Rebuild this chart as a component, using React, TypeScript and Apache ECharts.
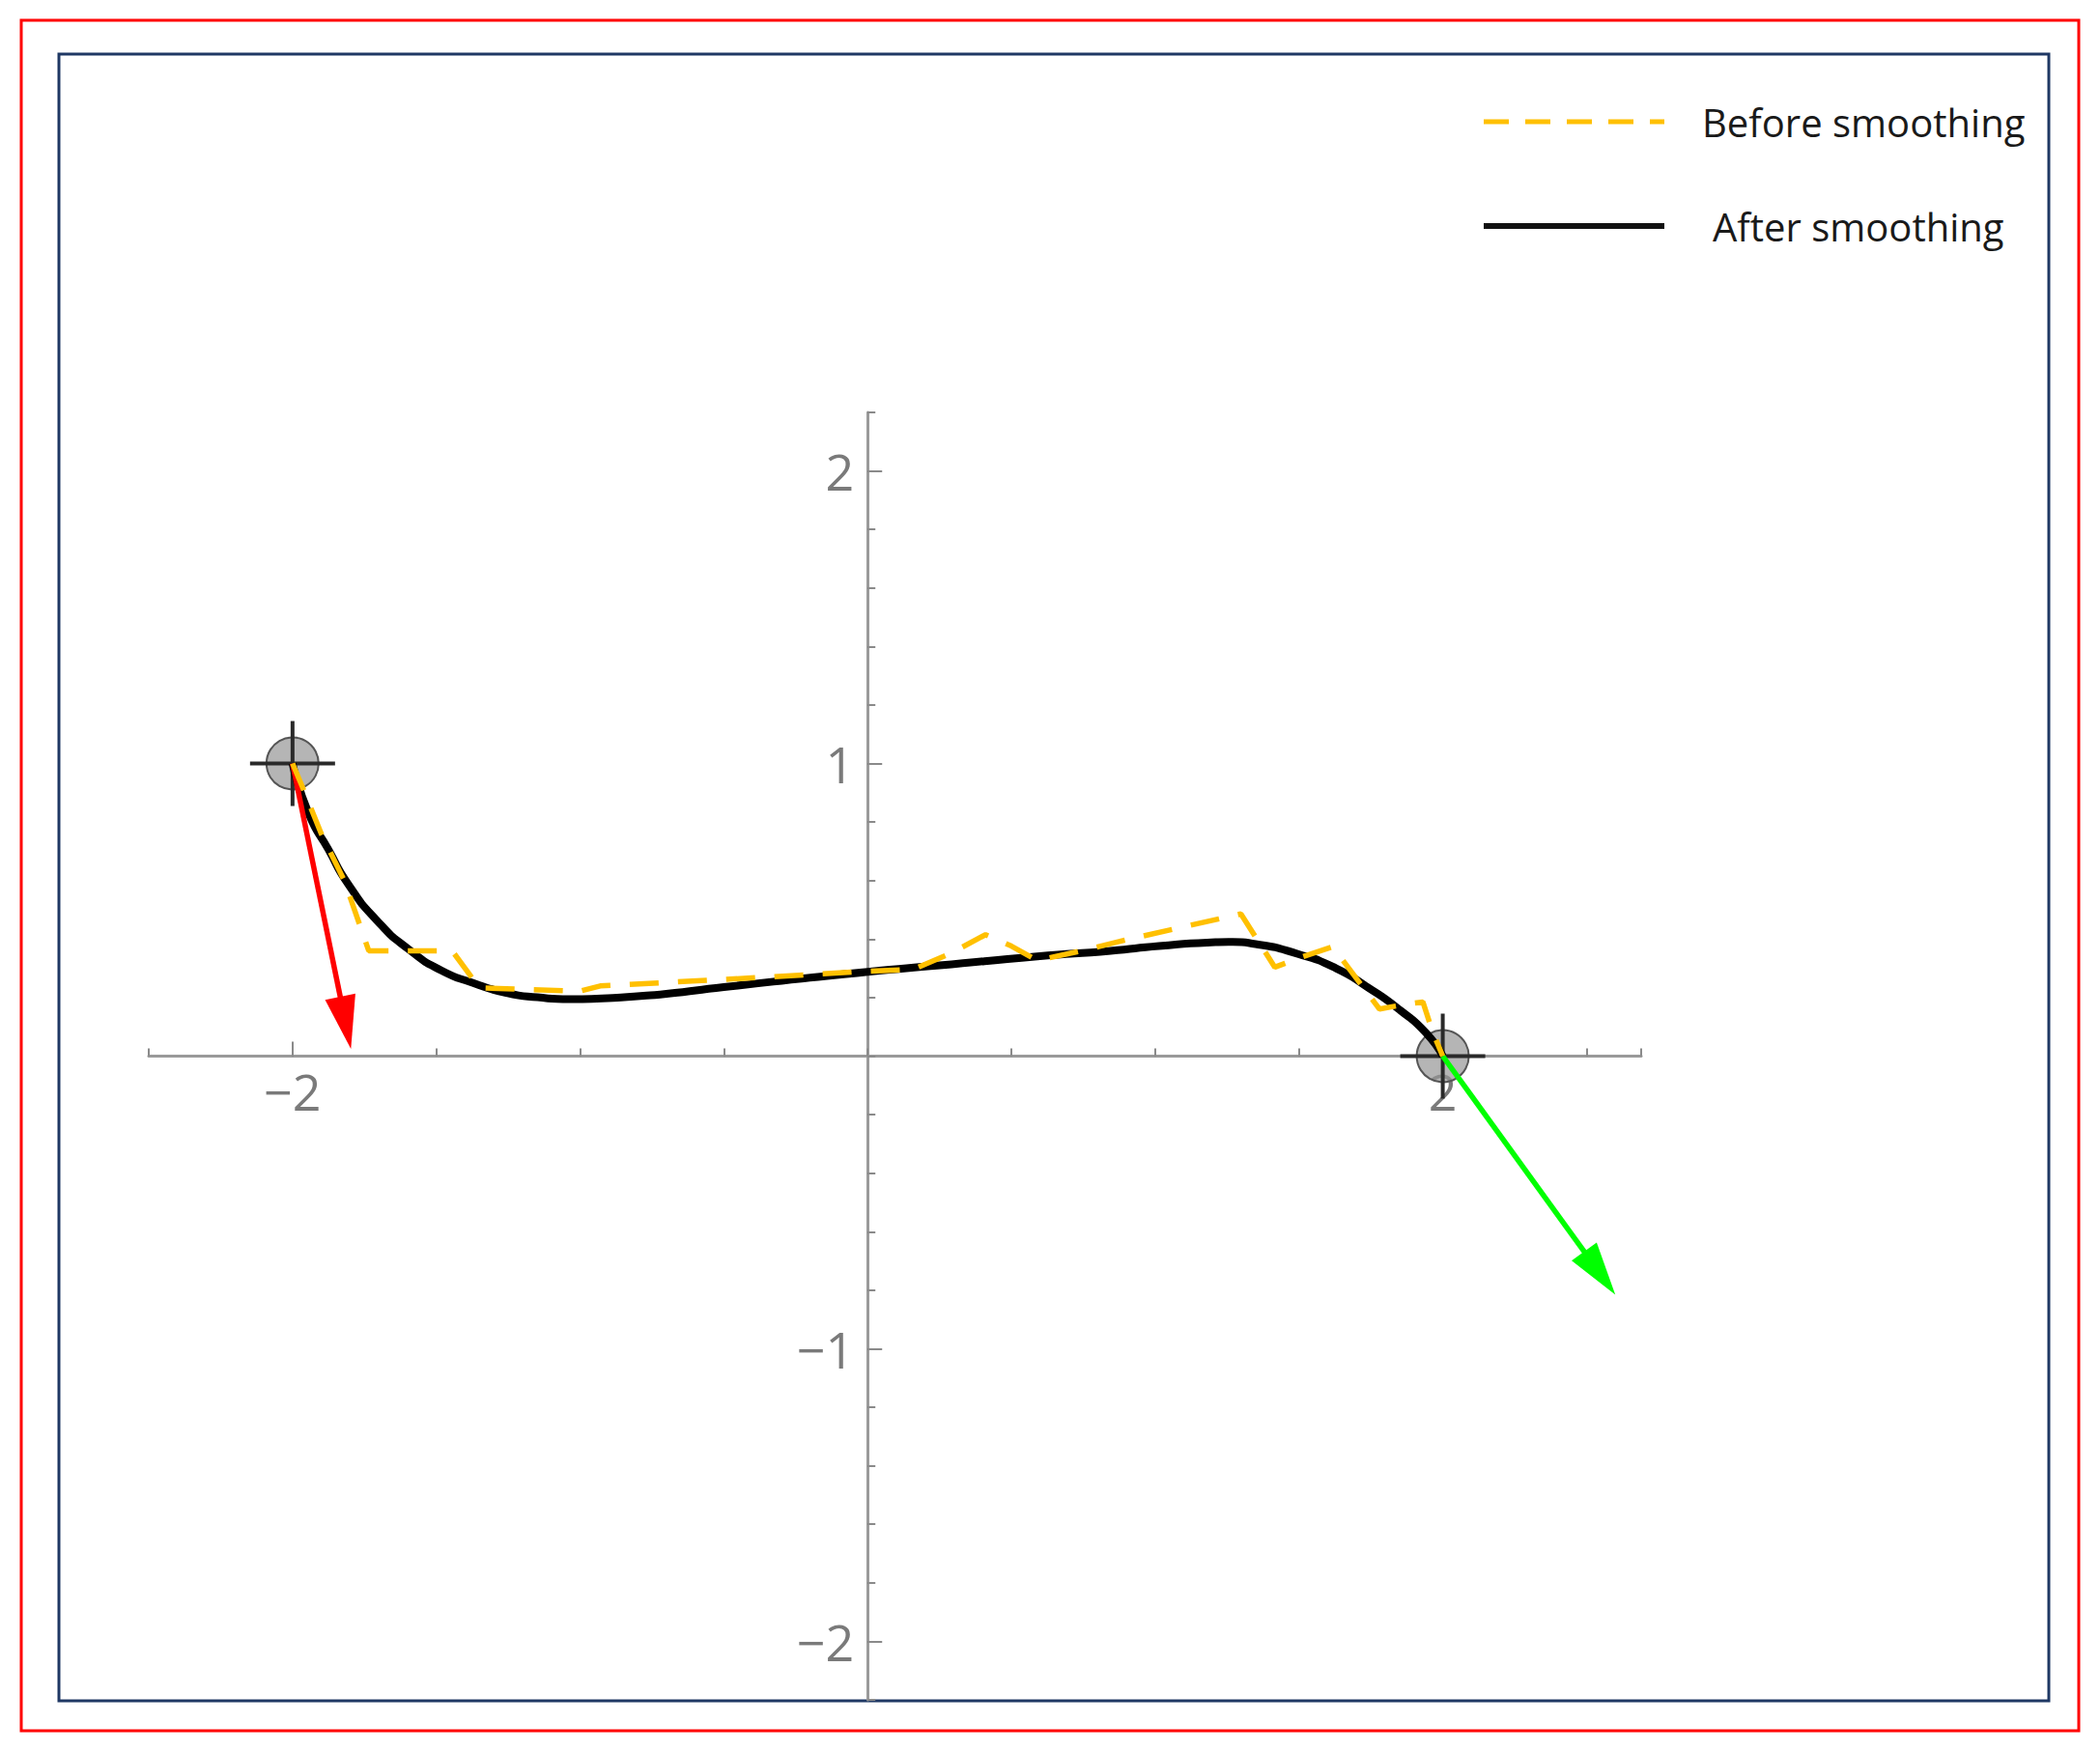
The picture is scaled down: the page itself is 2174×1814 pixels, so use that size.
import React, { useEffect, useRef } from "react";
import * as echarts from "echarts";

const SERIES_BEFORE = "Before smoothing";
const SERIES_AFTER = "After smoothing";

// "Before smoothing" polyline (jagged path)
const beforeX = [-2.0, -1.97, -1.9, -1.82, -1.735, -1.445, -1.35, -1.0, -0.93, -0.5, 0.0, 0.16, 0.29, 0.41, 0.5, 0.59, 0.74, 0.91, 1.09, 1.298, 1.416, 1.505, 1.617, 1.78, 1.875, 1.931, 1.964, 2.0];
const beforeY = [1.0, 0.93, 0.76, 0.6, 0.36, 0.36, 0.233, 0.222, 0.24, 0.262, 0.29, 0.297, 0.352, 0.415, 0.376, 0.327, 0.359, 0.4, 0.44, 0.486, 0.304, 0.337, 0.374, 0.161, 0.178, 0.185, 0.085, 0.0];

// "After smoothing" curve
const afterX = [-2.0, -1.943, -1.875, -1.808, -1.707, -1.596, -1.483, -1.372, -1.26, -1.148, -1.036, -0.924, -0.812, -0.7, -0.5, 0.0, 0.25, 0.59, 0.845, 1.013, 1.181, 1.27, 1.349, 1.494, 1.629, 1.741, 1.853, 1.942, 2.0];
const afterY = [1.0, 0.827, 0.706, 0.59, 0.464, 0.365, 0.293, 0.25, 0.217, 0.201, 0.195, 0.197, 0.204, 0.213, 0.236, 0.288, 0.31, 0.341, 0.36, 0.376, 0.388, 0.39, 0.383, 0.35, 0.3, 0.234, 0.156, 0.079, 0.0];

// end points (start / goal)
const markerX = [-2, 2];
const markerY = [1, 0];

// tangent vectors
const arrowFromX = [-2, 2];
const arrowFromY = [1, 0];
const arrowToX = [-1.797, 2.6];
const arrowToY = [0.025, -0.815];
const arrowColors = ["#ff0000", "#00ff00"];

// axes
const X_MIN = -2.5;
const X_MAX = 2.69;
const Y_MIN = -2.2;
const Y_MAX = 2.2;
const xLabelValues = [-2, 2];
const yLabelValues = [-2, -1, 1, 2];
const xMajorTicks = [-2, 2];
const yMajorTicks = [-2, -1, 1, 2];

const FONT = "Open Sans";

const GRID = { left: 154, top: 427, width: 1545, height: 1333 };

const fmtNum = (v: number) => (v < 0 ? "\u2212" + Math.abs(v) : String(v));
const makeFmt = (vals: number[]) => (v: number) =>
  vals.some((t) => Math.abs(t - v) < 1e-9) ? fmtNum(v) : "";

export default function App() {
  const ref = useRef<HTMLDivElement>(null);

  useEffect(() => {
    if (!ref.current) return;
    const chart = echarts.init(ref.current, undefined, { renderer: "svg" });

    // the axes cross at the origin (Mathematica-style axes)
    const xAxisOffset = -(GRID.height * (0 - Y_MIN)) / (Y_MAX - Y_MIN);
    const yAxisOffset = -(GRID.width * (0 - X_MIN)) / (X_MAX - X_MIN);

    const axisLineStyle = { color: "#9a9a9a", width: 3 };
    const tickStyle = { color: "#8a8a8a", width: 2 };
    const labelStyle = { fontFamily: FONT, fontSize: 52, color: "#7a7a7a" };

    const option: any = {
      animation: false,
      backgroundColor: "#ffffff",
      textStyle: { fontFamily: FONT },
      grid: {
        ...GRID,
        containLabel: false,
        outerBoundsMode: "none",
      },
      graphic: [
        {
          type: "rect",
          shape: { x: 22, y: 21, width: 2130, height: 1771 },
          style: { fill: "none", stroke: "#ff0000", lineWidth: 3 },
          silent: true,
        },
        {
          type: "rect",
          shape: { x: 61, y: 56, width: 2060, height: 1705 },
          style: { fill: "none", stroke: "#1f3864", lineWidth: 3 },
          silent: true,
        },
      ],
      legend: {
        orient: "vertical",
        left: 1528,
        top: 101,
        itemWidth: 187,
        itemHeight: 40,
        itemGap: 68,
        selectedMode: false,
        data: [
          {
            name: SERIES_BEFORE,
            lineStyle: { color: "#FFC000", width: 5, type: [26, 17] },
            itemStyle: { opacity: 0 },
            textStyle: { padding: [0, 0, 0, 34] },
          },
          {
            name: SERIES_AFTER,
            lineStyle: { color: "#111111", width: 6, type: "solid" },
            itemStyle: { opacity: 0 },
            textStyle: { padding: [0, 0, 0, 45] },
          },
        ],
        textStyle: {
          fontFamily: FONT,
          fontSize: 40,
          color: "#1a1a1a",
          lineHeight: 40,
          padding: [0, 0, 0, 34],
        },
      },
      xAxis: [
        {
          type: "value",
          min: X_MIN,
          max: X_MAX,
          interval: 0.5,
          position: "bottom",
          offset: xAxisOffset,
          axisLine: { onZero: false, lineStyle: axisLineStyle },
          axisTick: { inside: true, length: 8, lineStyle: tickStyle },
          axisLabel: {
            ...labelStyle,
            margin: 10,
            customValues: xLabelValues,
            formatter: makeFmt(xLabelValues),
          },
          splitLine: { show: false },
        },
        {
          type: "value",
          min: X_MIN,
          max: X_MAX,
          position: "bottom",
          offset: xAxisOffset,
          axisLine: { show: false, onZero: false },
          axisTick: { inside: true, length: 15, customValues: xMajorTicks, lineStyle: tickStyle },
          axisLabel: { show: false },
          splitLine: { show: false },
        },
      ],
      yAxis: [
        {
          type: "value",
          min: Y_MIN,
          max: Y_MAX,
          interval: 0.2,
          position: "left",
          offset: yAxisOffset,
          axisLine: { onZero: false, lineStyle: axisLineStyle },
          axisTick: { inside: true, length: 8, lineStyle: tickStyle },
          axisLabel: {
            ...labelStyle,
            margin: 14,
            customValues: yLabelValues,
            formatter: makeFmt(yLabelValues),
          },
          splitLine: { show: false },
        },
        {
          type: "value",
          min: Y_MIN,
          max: Y_MAX,
          position: "left",
          offset: yAxisOffset,
          axisLine: { show: false, onZero: false },
          axisTick: { inside: true, length: 15, customValues: yMajorTicks, lineStyle: tickStyle },
          axisLabel: { show: false },
          splitLine: { show: false },
        },
      ],
      series: [
        {
          type: "custom",
          name: "endpoints",
          coordinateSystem: "cartesian2d",
          silent: true,
          z: 1,
          encode: { x: 0, y: 1 },
          data: markerX.map((x, i) => [x, markerY[i]]),
          renderItem: (params: any, api: any) => {
            const p = api.coord([api.value(0), api.value(1)]);
            return {
              type: "group",
              children: [
                {
                  type: "circle",
                  shape: { cx: p[0], cy: p[1], r: 27 },
                  style: { fill: "rgba(150,150,150,0.7)", stroke: "#555555", lineWidth: 2 },
                },
                {
                  type: "line",
                  shape: { x1: p[0] - 44, y1: p[1], x2: p[0] + 44, y2: p[1] },
                  style: { stroke: "#2a2a2a", lineWidth: 4 },
                },
                {
                  type: "line",
                  shape: { x1: p[0], y1: p[1] - 44, x2: p[0], y2: p[1] + 44 },
                  style: { stroke: "#2a2a2a", lineWidth: 4 },
                },
              ],
            };
          },
        },
        {
          type: "line",
          name: SERIES_AFTER,
          z: 2,
          smooth: 0.6,
          symbol: "none",
          silent: true,
          data: afterX.map((x, i) => [x, afterY[i]]),
          lineStyle: { color: "#000000", width: 8 },
          itemStyle: { color: "#000000" },
        },
        {
          type: "custom",
          name: "vectors",
          coordinateSystem: "cartesian2d",
          silent: true,
          z: 3,
          encode: { x: [0, 2], y: [1, 3] },
          data: arrowFromX.map((x, i) => [x, arrowFromY[i], arrowToX[i], arrowToY[i]]),
          renderItem: (params: any, api: any) => {
            const p0 = api.coord([api.value(0), api.value(1)]);
            const p1 = api.coord([api.value(2), api.value(3)]);
            const color = arrowColors[params.dataIndex];
            const dx = p1[0] - p0[0];
            const dy = p1[1] - p0[1];
            const len = Math.hypot(dx, dy) || 1;
            const ux = dx / len;
            const uy = dy / len;
            const headLen = 55;
            const headHalf = 16;
            const bx = p1[0] - ux * headLen;
            const by = p1[1] - uy * headLen;
            return {
              type: "group",
              children: [
                {
                  type: "line",
                  shape: { x1: p0[0], y1: p0[1], x2: bx + ux * 6, y2: by + uy * 6 },
                  style: { stroke: color, lineWidth: 5.5 },
                },
                {
                  type: "polygon",
                  shape: {
                    points: [
                      [p1[0], p1[1]],
                      [bx - uy * headHalf, by + ux * headHalf],
                      [bx + uy * headHalf, by - ux * headHalf],
                    ],
                  },
                  style: { fill: color },
                },
              ],
            };
          },
        },
        {
          type: "line",
          name: SERIES_BEFORE,
          z: 4,
          smooth: false,
          symbol: "none",
          silent: true,
          data: beforeX.map((x, i) => [x, beforeY[i]]),
          lineStyle: { color: "#FFC000", width: 5.5, type: [30, 20] },
          itemStyle: { color: "#FFC000" },
        },
      ],
    };

    chart.setOption(option);
    return () => chart.dispose();
  }, []);

  return (
    <div
      ref={ref}
      style={{ position: "absolute", left: 0, top: 0, width: 2174, height: 1814, background: "#ffffff" }}
    />
  );
}
